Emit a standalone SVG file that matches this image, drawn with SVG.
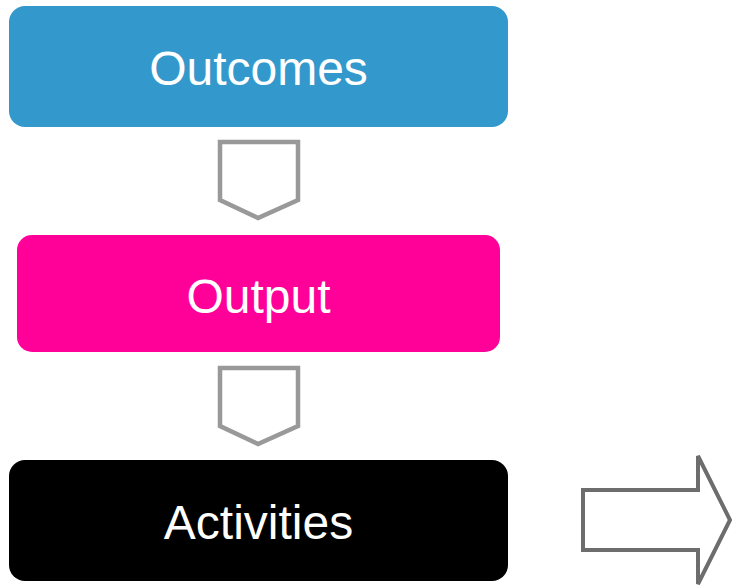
<svg xmlns="http://www.w3.org/2000/svg" width="732" height="586" viewBox="0 0 732 586">
<style>
.lbl{font-family:"Liberation Sans",Arial,sans-serif;font-size:48px;fill:#fff;text-anchor:middle}
.pent{fill:#fff;stroke:#999;stroke-width:4.5}
.arr{fill:#fff;stroke:#6d6d6d;stroke-width:4}
</style>
<rect width="732" height="586" fill="#fff"/>
<g id="outcomes">
<rect x="9" y="6" width="499" height="121" rx="16" fill="#3399cc"/>
<text class="lbl" x="258.5" y="85">Outcomes</text>
</g>
<g id="output">
<rect x="17" y="235" width="483" height="117" rx="15" fill="#ff0099"/>
<text class="lbl" x="258.5" y="313">Output</text>
</g>
<g id="activities">
<rect x="9" y="460" width="499" height="121" rx="16" fill="#000"/>
<text class="lbl" x="258.5" y="539">Activities</text>
</g>
<g id="connectors">
<polygon class="pent" points="220,142 298,142 298,200 258,218 220,200"/>
<polygon class="pent" points="220,368 298,368 298,426 258,444 220,426"/>
<polygon class="arr" points="583,490 698,490 698,456 730,520 698,584 698,550 583,550"/>
</g>
</svg>
